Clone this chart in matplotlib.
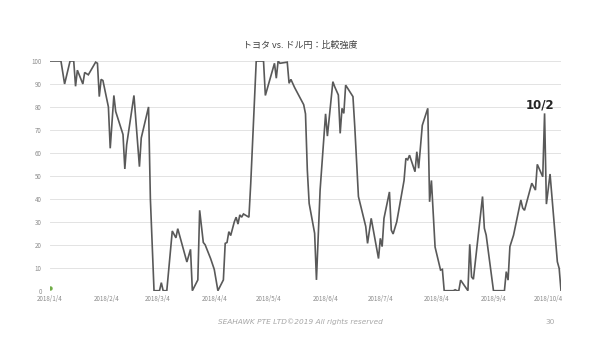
import matplotlib
matplotlib.use("Agg")
import matplotlib.pyplot as plt
import pandas as pd

plt.rcParams['font.family'] = ['Noto Sans CJK JP', 'DejaVu Sans']

title = "トヨタ vs. ドル円：比較強度"
footer = "SEAHAWK PTE LTD©2019 All rights reserved"
page = "30"
peak_label = "10/2"
peak_date = "2018-10-02"

dates = [
    "2018-01-04", "2018-01-10", "2018-01-12", "2018-01-15", "2018-01-17", "2018-01-18",
    "2018-01-19", "2018-01-22", "2018-01-23", "2018-01-25", "2018-01-29", "2018-01-30",
    "2018-01-31", "2018-02-01", "2018-02-02", "2018-02-05", "2018-02-06", "2018-02-08",
    "2018-02-09", "2018-02-13", "2018-02-14", "2018-02-15", "2018-02-19", "2018-02-22",
    "2018-02-23", "2018-02-27", "2018-02-28", "2018-03-02", "2018-03-05", "2018-03-06",
    "2018-03-07", "2018-03-09", "2018-03-12", "2018-03-14", "2018-03-15", "2018-03-20",
    "2018-03-22", "2018-03-23", "2018-03-26", "2018-03-27", "2018-03-29", "2018-03-30",
    "2018-04-02", "2018-04-04", "2018-04-06", "2018-04-09", "2018-04-10", "2018-04-11",
    "2018-04-12", "2018-04-13", "2018-04-15", "2018-04-16", "2018-04-17", "2018-04-18",
    "2018-04-19", "2018-04-20", "2018-04-23", "2018-04-24", "2018-04-27", "2018-05-01",
    "2018-05-02", "2018-05-07", "2018-05-08", "2018-05-09", "2018-05-10", "2018-05-14",
    "2018-05-15", "2018-05-16", "2018-05-18", "2018-05-23", "2018-05-24", "2018-05-25",
    "2018-05-26", "2018-05-29", "2018-05-30", "2018-06-01", "2018-06-04", "2018-06-05",
    "2018-06-08", "2018-06-09", "2018-06-11", "2018-06-12", "2018-06-13", "2018-06-14",
    "2018-06-15", "2018-06-19", "2018-06-20", "2018-06-22", "2018-06-26", "2018-06-27",
    "2018-06-29", "2018-07-03", "2018-07-04", "2018-07-05", "2018-07-06", "2018-07-09",
    "2018-07-10", "2018-07-11", "2018-07-13", "2018-07-17", "2018-07-18", "2018-07-19",
    "2018-07-20", "2018-07-23", "2018-07-24", "2018-07-25", "2018-07-27", "2018-07-30",
    "2018-07-31", "2018-08-01", "2018-08-03", "2018-08-06", "2018-08-07", "2018-08-08",
    "2018-08-13", "2018-08-14", "2018-08-15", "2018-08-16", "2018-08-17", "2018-08-21",
    "2018-08-22", "2018-08-23", "2018-08-24", "2018-08-29", "2018-08-30", "2018-08-31",
    "2018-09-04", "2018-09-10", "2018-09-11", "2018-09-12", "2018-09-13", "2018-09-15",
    "2018-09-19", "2018-09-20", "2018-09-21", "2018-09-25", "2018-09-27", "2018-09-28",
    "2018-10-01", "2018-10-02", "2018-10-03", "2018-10-05", "2018-10-09", "2018-10-10",
    "2018-10-11",
]
strength = [
    100, 100, 90, 100, 100, 89,
    96, 90, 95, 94, 99.5, 99,
    84.5, 92, 91.5, 80, 62, 85,
    78, 68, 53, 63.5, 85, 54,
    66.5, 80, 40, 0, 0, 3.5,
    0, 0, 26, 23, 27, 12.5,
    18, 0, 4.7, 35, 21, 20,
    14, 9.3, 0, 4.7, 20.6, 21,
    25.7, 24, 30, 32, 29, 33,
    32, 33.4, 32, 46.8, 100, 100,
    85, 99, 92.5, 100, 99, 99.5,
    90.3, 92, 88.5, 81, 77, 52.5,
    38, 25, 4.7, 43.8, 77, 67.3,
    91, 88.8, 85.2, 68.5, 79.4, 77.2,
    89.5, 84.5, 71.4, 41, 28, 20.6,
    31.5, 14, 22.8, 19.2, 31.5, 43,
    26.4, 24.7, 30, 48, 57.6, 57,
    59, 51.8, 60.5, 53.3, 72, 79.4,
    38.7, 48, 19, 9, 9.3, 0,
    0, 0.4, 0, 0, 4.6, 0,
    20.2, 6, 5, 41, 27.2, 24.2,
    0, 0, 8.3, 4.6, 19.2, 24.2,
    39.5, 36, 35, 46.8, 43.8, 55,
    49.6, 77.2, 37.7, 50.8, 12.6, 9.7,
    0,
]
marker_date = ["2018-01-04"]
marker_value = [1]

tick_dates = ["2018-01-04", "2018-02-04", "2018-03-04", "2018-04-04", "2018-05-04",
              "2018-06-04", "2018-07-04", "2018-08-04", "2018-09-04", "2018-10-04"]
tick_labels = ["2018/1/4", "2018/2/4", "2018/3/4", "2018/4/4", "2018/5/4",
               "2018/6/4", "2018/7/4", "2018/8/4", "2018/9/4", "2018/10/4"]
y_ticks = [0, 10, 20, 30, 40, 50, 60, 70, 80, 90, 100]

x = pd.to_datetime(dates)
fig = plt.figure(figsize=(6, 3.38), dpi=100)
ax = fig.add_axes([50/600, 1-290.7/338, 511/600, (290.7-61)/338])

ax.plot(x, strength, color='#595959', lw=1.2, solid_joinstyle='miter', zorder=3)
ax.plot(pd.to_datetime(marker_date), marker_value, 'o', color='#70AD47', ms=2.2, zorder=4)

ax.set_ylim(0, 100)
ax.set_xlim(pd.Timestamp("2018-01-04"), pd.Timestamp("2018-10-11"))
ax.set_yticks(y_ticks)
ax.set_yticklabels([str(v) for v in y_ticks])
ax.set_xticks(pd.to_datetime(tick_dates))
ax.set_xticklabels(tick_labels)
ax.grid(axis='y', color='#e3e3e3', lw=0.7)
ax.set_axisbelow(True)
for s in ax.spines.values():
    s.set_visible(False)
ax.tick_params(axis='both', length=0, labelsize=4.5, labelcolor='#8c8c8c', pad=3)
ax.tick_params(axis='y', pad=6)

pk = pd.Timestamp(peak_date)
pv = strength[dates.index(peak_date)]
ax.annotate(peak_label, xy=(pk, pv), xytext=(-3, 1.5), textcoords='offset points',
            ha='center', va='bottom', fontsize=8.5, fontweight='bold', color='#262626',
            family=['DejaVu Sans'])

fig.text(0.5, 1-45/338, title, ha='center', va='center', fontsize=6.5, color='#404040')
fig.text(300/600, 1-322/338, footer, ha='center', va='center', fontsize=5.3,
         color='#a6a6a6', style='italic', family=['DejaVu Sans'])
fig.text(550/600, 1-322/338, page, ha='center', va='center', fontsize=5.3,
         color='#a6a6a6', family=['DejaVu Sans'])

fig.savefig("out.png", dpi=100)
